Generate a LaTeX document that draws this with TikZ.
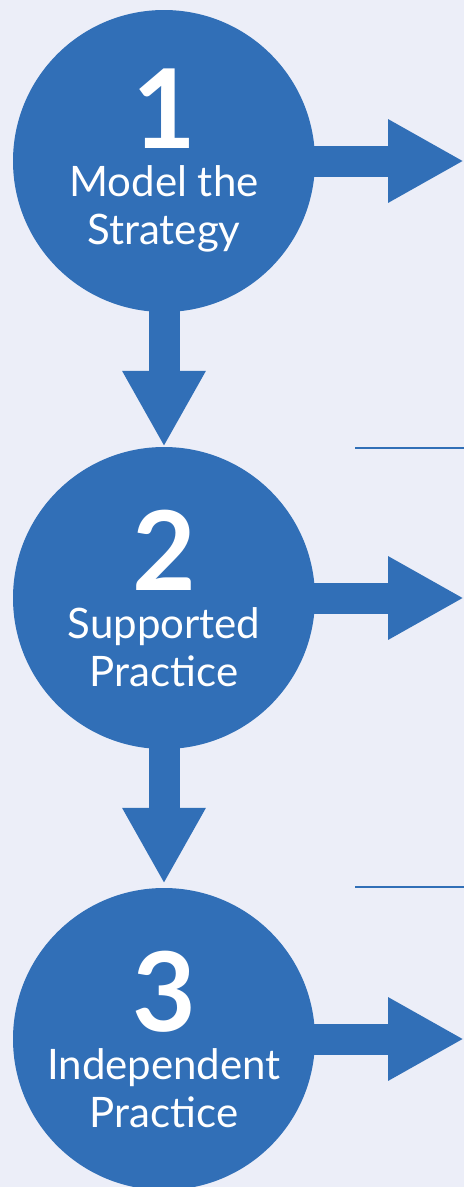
\documentclass[tikz,border=0pt]{standalone}
\usepackage{fontspec}
\setmainfont{Lato}
\usetikzlibrary{positioning, arrows.meta, backgrounds}
\definecolor{stepblue}{HTML}{316FB7}
\definecolor{paper}{HTML}{ECEEF8}
\newcommand{\stepnum}[1]{{\fontsize{110}{110}\selectfont\bfseries #1}}

\begin{document}
\begin{tikzpicture}[
    x=1pt, y=-1pt,
    stepcircle/.style={circle, fill=stepblue, text=white, minimum size=302pt,
        inner sep=0pt, align=center, font=\fontsize{42}{48}\selectfont},
    bigarrow/.style={stepblue, line width=31pt, -{Triangle[length=76pt, width=78pt]}},
    divider/.style={stepblue, line width=1.5pt},
]

% page
\useasboundingbox (0,0) rectangle (464,1187);
\fill[paper] (0,0) rectangle (464,1187);

% steps
\node[stepcircle] (c1) at (164,161) {\stepnum{1}\\Model the\\Strategy};
\node[stepcircle] (c2) at (164,598) {\stepnum{2}\\Supported\\Practice};
\node[stepcircle] (c3) at (164,1039) {\stepnum{3}\\Independent\\Practice};

% free ends
\coordinate (e1) at (464,161);
\coordinate (e2) at (464,598);
\coordinate (e3) at (464,1039);

% arrows
\draw[bigarrow] ([xshift=-3pt]c1.east) -- (e1);
\draw[bigarrow] ([xshift=-3pt]c2.east) -- (e2);
\draw[bigarrow] ([xshift=-3pt]c3.east) -- (e3);
\draw[bigarrow] ([yshift=3pt]c1.south) -- (c2.north);
\draw[bigarrow, shorten >=4pt] ([yshift=3pt]c2.south) -- (c3.north);

% dividers
\coordinate (d1a) at (355,448);
\coordinate (d1b) at (464,448);
\coordinate (d2a) at (355,887);
\coordinate (d2b) at (464,887);
\draw[divider] (d1a) -- (d1b);
\draw[divider] (d2a) -- (d2b);

\end{tikzpicture}
\end{document}
